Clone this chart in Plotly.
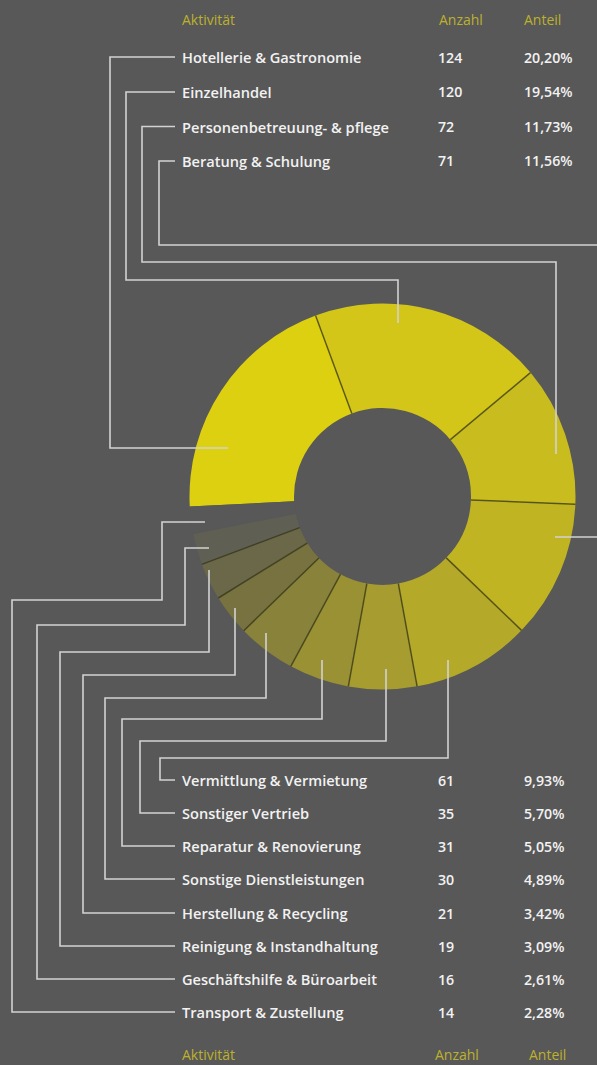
import math
import plotly.graph_objects as go

# ---------------- data ----------------
categories = [
    "Hotellerie & Gastronomie",
    "Einzelhandel",
    "Personenbetreuung- & pflege",
    "Beratung & Schulung",
    "Vermittlung & Vermietung",
    "Sonstiger Vertrieb",
    "Reparatur & Renovierung",
    "Sonstige Dienstleistungen",
    "Herstellung & Recycling",
    "Reinigung & Instandhaltung",
    "Geschäftshilfe & Büroarbeit",
    "Transport & Zustellung",
]
counts = [124, 120, 72, 71, 61, 35, 31, 30, 21, 19, 16, 14]
header_labels = ["Aktivität", "Anzahl", "Anteil"]

slice_colors = [
    "#ddd010", "#d3c619", "#c9bc1f", "#c0b423", "#b4a929", "#a69c2f",
    "#999134", "#88823a", "#77723f", "#6a6848", "#605f54", "#585858",
]

# ---------------- layout helpers ----------------
W, H = 597, 1065
BG = "#585858"
LINE = "#d2d2d2"
HEAD = "#bcb12e"
SEP = "rgba(50,50,20,0.7)"


def px(x, y):
    return x / W, 1 - y / H


def path(points):
    s = ""
    for i, (x, y) in enumerate(points):
        u, v = px(x, y)
        s += ("M" if i == 0 else "L") + f"{u:.5f},{v:.5f} "
    return s.strip()


total = sum(counts)
shares = [f"{100 * c / total:.2f}%".replace(".", ",") for c in counts]

# pie geometry (pixels)
cx, cy, R = 382.5, 496.5, 193.0
HOLE = 0.4585
START = 267.0  # degrees clockwise from 12 o'clock
dx0, dy1 = px(cx - R, cy - R)
dx1, dy0 = px(cx + R, cy + R)

fig = go.Figure()
fig.add_trace(go.Pie(
    values=counts,
    labels=categories,
    sort=False,
    direction="clockwise",
    rotation=START - 360,
    hole=HOLE,
    textinfo="none",
    hoverinfo="label+value+percent",
    showlegend=False,
    marker=dict(colors=slice_colors, line=dict(width=0)),
    domain=dict(x=[dx0, dx1], y=[dy0, dy1]),
))

shapes = []
# slice separators at the cumulative boundaries (computed from the data)
cum = 0
for c in counts[:-2]:
    cum += c
    a = math.radians(START + 360 * cum / total)
    p_in = (cx + R * HOLE * math.sin(a), cy - R * HOLE * math.cos(a))
    p_out = (cx + R * math.sin(a), cy - R * math.cos(a))
    shapes.append(dict(type="path", xref="paper", yref="paper",
                       path=path([p_in, p_out]), line=dict(color=SEP, width=1.5)))

# leader lines (elbows), pixel coordinates
leaders = [
    [(175, 57), (110, 57), (110, 448), (228, 448)],
    [(175, 92), (126, 92), (126, 280), (398, 280), (398, 323)],
    [(175, 126.5), (142, 126.5), (142, 262), (556, 262), (556, 454)],
    [(175, 161), (159, 161), (159, 245), (597, 245)],
    [(597, 537), (555, 537)],
    [(175, 780), (160, 780), (160, 758), (448, 758), (448, 660)],
    [(175, 813), (140, 813), (140, 741), (386, 741), (386, 669)],
    [(175, 846), (122, 846), (122, 719), (322, 719), (322, 660)],
    [(175, 879), (105, 879), (105, 698), (266, 698), (266, 633)],
    [(175, 913), (83, 913), (83, 675), (235, 675), (235, 608)],
    [(175, 946), (60, 946), (60, 652), (209, 652), (209, 570)],
    [(175, 979), (37, 979), (37, 625), (185, 625), (185, 548), (209, 548)],
    [(175, 1012), (12, 1012), (12, 600), (162, 600), (162, 522), (205, 522)],
]
shapes += [dict(type="path", xref="paper", yref="paper", path=path(p),
                line=dict(color=LINE, width=1.6)) for p in leaders]

row_y = [57, 92, 126.5, 161, 780, 813, 846, 879, 913, 946, 979, 1012]
annotations = []
lab_font = dict(family="Open Sans", size=14.6, color="#f2f2f2", weight=600)
num_font = dict(family="Open Sans", size=14.2, color="#f2f2f2", weight=600)
for name, c, s, y in zip(categories, counts, shares, row_y):
    for x, t, f in [(180, name, lab_font), (436, str(c), num_font), (522, s, num_font)]:
        u, v = px(x, y)
        annotations.append(dict(x=u, y=v, xref="paper", yref="paper", text=t,
                                showarrow=False, xanchor="left", yanchor="middle",
                                font=f))

head_font = dict(family="Open Sans", size=14, color=HEAD)
for hy, xs in [(19, [180, 437, 522]), (1054, [180, 433, 527])]:
    for x, t in zip(xs, header_labels):
        u, v = px(x, hy)
        annotations.append(dict(x=u, y=v, xref="paper", yref="paper", text=t,
                                showarrow=False, xanchor="left", yanchor="middle",
                                font=head_font))

fig.update_layout(
    width=W, height=H,
    margin=dict(l=0, r=0, t=0, b=0),
    paper_bgcolor=BG, plot_bgcolor=BG,
    shapes=shapes,
    annotations=annotations,
)

fig.write_html("out.html")
